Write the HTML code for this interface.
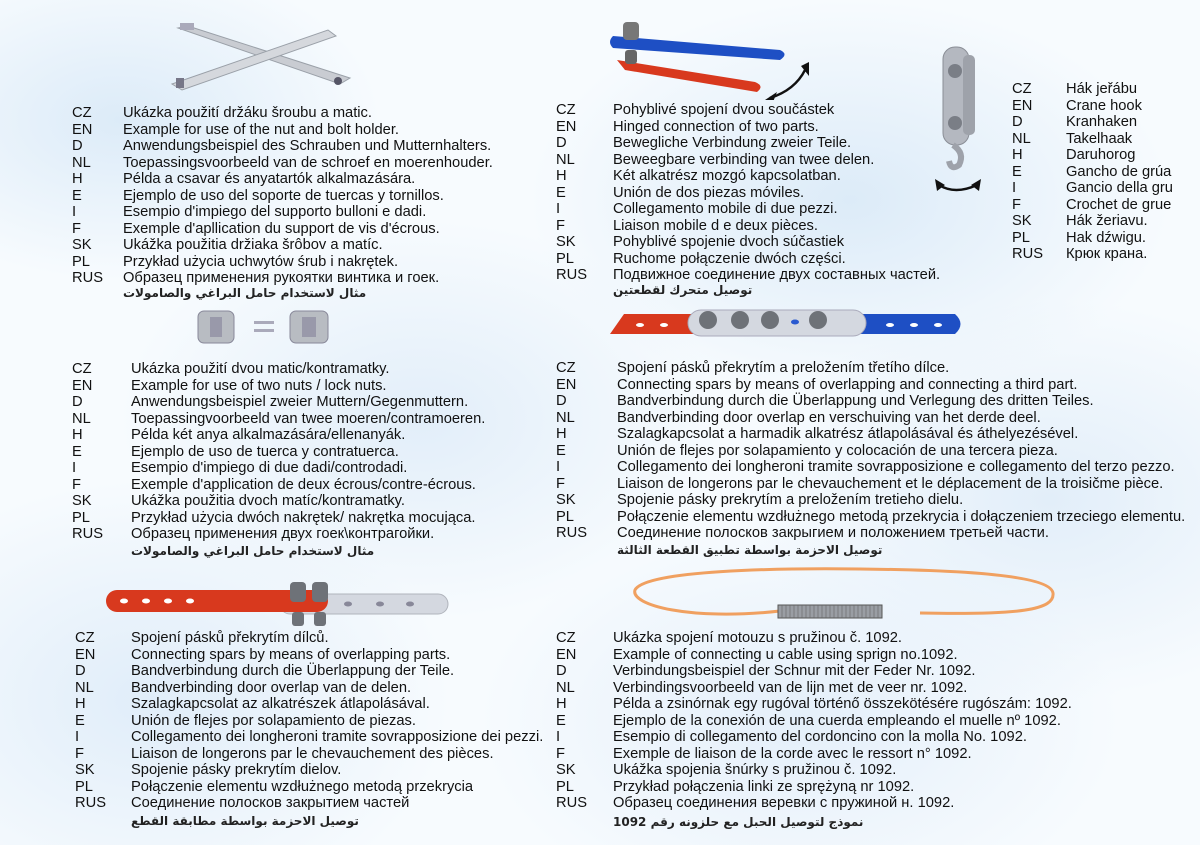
<!DOCTYPE html>
<html><head><meta charset="utf-8">
<style>
html,body{margin:0;padding:0}
body{width:1200px;height:845px;position:relative;overflow:hidden;font-family:"Liberation Sans",Arial,sans-serif;color:#111;
background:
radial-gradient(ellipse 260px 160px at 120px 120px,#dcebf8 0%,rgba(220,235,248,0) 100%),
radial-gradient(ellipse 300px 200px at 420px 420px,#e2eef9 0%,rgba(226,238,249,0) 100%),
radial-gradient(ellipse 300px 220px at 150px 700px,#e0edf9 0%,rgba(224,237,249,0) 100%),
radial-gradient(ellipse 320px 200px at 850px 200px,#dcebf8 0%,rgba(220,235,248,0) 100%),
radial-gradient(ellipse 300px 200px at 1050px 500px,#e2eef9 0%,rgba(226,238,249,0) 100%),
radial-gradient(ellipse 320px 200px at 800px 720px,#e4effa 0%,rgba(228,239,250,0) 100%),
#f7fbfe;}
.b{position:absolute;font-size:14.7px;line-height:16.55px;white-space:nowrap}
.b .c{position:absolute;left:0;top:0}
.b .t{position:absolute;top:0}
.ar{position:absolute;font-family:"DejaVu Sans",sans-serif;font-size:12px;font-weight:bold;color:#222;direction:rtl;white-space:nowrap}
svg{position:absolute}
</style></head><body>

<svg style="left:160px;top:18px" width="200" height="80" viewBox="0 0 200 80">
<polygon points="18,10 28,8 190,60 180,66" fill="#c9ccd2" stroke="#9aa0a8"/>
<polygon points="12,66 168,12 176,18 22,72" fill="#d5d8dd" stroke="#9aa0a8"/>
<rect x="20" y="5" width="14" height="7" fill="#aab"/>
<rect x="16" y="60" width="8" height="10" fill="#778"/>
<circle cx="178" cy="63" r="4" fill="#556"/>
</svg>

<div class="b" style="left:72px;top:105px"><div class="c">CZ<br>EN<br>D<br>NL<br>H<br>E<br>I<br>F<br>SK<br>PL<br>RUS</div><div class="t" style="left:51px">
Ukázka použití držáku šroubu a matic.<br>Example for use of the nut and bolt holder.<br>Anwendungsbeispiel des Schrauben und Mutternhalters.<br>Toepassingsvoorbeeld van de schroef en moerenhouder.<br>Példa a csavar  és anyatartók alkalmazására.<br>Ejemplo de uso del soporte de tuercas y tornillos.<br>Esempio d'impiego del supporto bulloni e dadi.<br>Exemple d'apllication du support de vis d'écrous.<br>Ukážka použitia držiaka šrôbov a matíc.<br>Przykład użycia uchwytów śrub i nakrętek.<br>Образец применения рукоятки винтика и гоек.</div></div>
<div class="ar" style="left:123px;top:286px">مثال لاستخدام حامل البراغي والصامولات</div>

<svg style="left:190px;top:305px" width="150" height="45" viewBox="0 0 150 45">
<rect x="8" y="6" width="36" height="32" rx="6" fill="#b8bcc2" stroke="#889"/>
<rect x="20" y="12" width="12" height="20" fill="#99a"/>
<rect x="64" y="16" width="20" height="3" fill="#aab"/><rect x="64" y="24" width="20" height="3" fill="#aab"/>
<rect x="100" y="6" width="38" height="32" rx="6" fill="#b8bcc2" stroke="#889"/>
<rect x="112" y="12" width="14" height="20" fill="#99a"/>
</svg>

<div class="b" style="left:72px;top:361px"><div class="c">CZ<br>EN<br>D<br>NL<br>H<br>E<br>I<br>F<br>SK<br>PL<br>RUS</div><div class="t" style="left:59px">
Ukázka použití dvou matic/kontramatky.<br>Example for use of two nuts / lock nuts.<br>Anwendungsbeispiel zweier Muttern/Gegenmuttern.<br>Toepassingvoorbeeld van twee moeren/contramoeren.<br>Példa két anya alkalmazására/ellenanyák.<br>Ejemplo de uso de tuerca y contratuerca.<br>Esempio d'impiego di due dadi/controdadi.<br>Exemple d'application de deux écrous/contre-écrous.<br>Ukážka použitia dvoch matíc/kontramatky.<br>Przykład użycia dwóch nakrętek/ nakrętka mocująca.<br>Образец применения двух гоек\контрагойки.</div></div>
<div class="ar" style="left:131px;top:544px">مثال لاستخدام حامل البراغي والصامولات</div>

<svg style="left:100px;top:580px" width="360" height="50" viewBox="0 0 360 50">
<rect x="180" y="14" width="168" height="20" rx="10" fill="#d4d8e0" stroke="#b0b4bc"/>
<rect x="6" y="10" width="222" height="22" rx="11" fill="#d8391e"/>
<g fill="#fff"><ellipse cx="24" cy="21" rx="4" ry="2.5"/><ellipse cx="46" cy="21" rx="4" ry="2.5"/><ellipse cx="68" cy="21" rx="4" ry="2.5"/><ellipse cx="90" cy="21" rx="4" ry="2.5"/></g>
<g fill="#889"><ellipse cx="248" cy="24" rx="4" ry="2.5"/><ellipse cx="280" cy="24" rx="4" ry="2.5"/><ellipse cx="310" cy="24" rx="4" ry="2.5"/></g>
<g fill="#6e7278"><rect x="190" y="2" width="16" height="20" rx="4"/><rect x="212" y="2" width="16" height="20" rx="4"/><rect x="192" y="32" width="12" height="14" rx="3"/><rect x="214" y="32" width="12" height="14" rx="3"/></g>
</svg>

<div class="b" style="left:75px;top:630px"><div class="c">CZ<br>EN<br>D<br>NL<br>H<br>E<br>I<br>F<br>SK<br>PL<br>RUS</div><div class="t" style="left:56px">
Spojení pásků překrytím dílců.<br>Connecting spars by means of overlapping parts.<br>Bandverbindung durch die Überlappung der Teile.<br>Bandverbinding door overlap van de delen.<br>Szalagkapcsolat az alkatrészek átlapolásával.<br>Unión de flejes por solapamiento de piezas.<br>Collegamento dei longheroni tramite sovrapposizione dei pezzi.<br>Liaison de longerons par le chevauchement des pièces.<br>Spojenie pásky prekrytím dielov.<br>Połączenie elementu wzdłużnego metodą przekrycia<br>Соединение полосков закрытием частей</div></div>
<div class="ar" style="left:131px;top:814px">توصيل الاحزمة بواسطة مطابقة القطع</div>

<svg style="left:605px;top:20px" width="220" height="80" viewBox="0 0 220 80">
<path d="M12,40 L150,62 Q160,66 152,72 L20,50 Z" fill="#d8391e"/>
<path d="M8,16 L175,30 Q184,34 175,40 L8,28 Q2,22 8,16Z" fill="#1e4fc4"/>
<rect x="18" y="2" width="16" height="18" rx="4" fill="#777"/>
<rect x="20" y="30" width="12" height="14" rx="3" fill="#666"/>
<path d="M165,78 Q190,70 200,50" fill="none" stroke="#111" stroke-width="2.5"/>
<polygon points="160,80 172,72 168,82" fill="#111"/><polygon points="196,46 204,42 204,56" fill="#111"/>
</svg>

<div class="b" style="left:556px;top:102px"><div class="c">CZ<br>EN<br>D<br>NL<br>H<br>E<br>I<br>F<br>SK<br>PL<br>RUS</div><div class="t" style="left:57px">
Pohyblivé spojení dvou součástek<br>Hinged connection of two parts.<br>Bewegliche Verbindung zweier Teile.<br>Beweegbare verbinding van twee delen.<br>Két alkatrész mozgó kapcsolatban.<br>Unión de dos piezas móviles.<br>Collegamento mobile di due pezzi.<br>Liaison mobile d e deux pièces.<br>Pohyblivé spojenie dvoch súčastiek<br>Ruchome połączenie dwóch części.<br>Подвижное соединение двух составных частей.</div></div>
<div class="ar" style="left:613px;top:283px">توصيل متحرك لقطعتين</div>

<svg style="left:935px;top:45px" width="60" height="150" viewBox="0 0 60 150">
<rect x="8" y="2" width="26" height="98" rx="12" fill="#b4b8c0" stroke="#8a8e96"/>
<rect x="28" y="10" width="12" height="80" rx="5" fill="#9ea2aa"/>
<circle cx="20" cy="26" r="7" fill="#7a7e86"/><circle cx="20" cy="78" r="7" fill="#7a7e86"/>
<path d="M18,100 Q30,108 24,120 Q16,126 14,116" fill="none" stroke="#9ea2aa" stroke-width="6"/>
<path d="M4,140 Q20,150 42,140" fill="none" stroke="#111" stroke-width="2.5"/>
<polygon points="0,134 10,140 2,146" fill="#111"/><polygon points="46,134 36,140 44,146" fill="#111"/>
</svg>

<div class="b" style="left:1012px;top:81px"><div class="c">CZ<br>EN<br>D<br>NL<br>H<br>E<br>I<br>F<br>SK<br>PL<br>RUS</div><div class="t" style="left:54px">
Hák jeřábu<br>Crane hook<br>Kranhaken<br>Takelhaak<br>Daruhorog<br>Gancho de grúa<br>Gancio della gru<br>Crochet de grue<br>Hák žeriavu.<br>Hak dźwigu.<br>Крюк крана.</div></div>

<svg style="left:600px;top:300px" width="370" height="45" viewBox="0 0 370 45">
<polygon points="10,34 24,14 110,14 110,34" fill="#d8391e"/>
<path d="M250,14 L355,14 Q366,24 355,34 L250,34Z" fill="#1e4fc4"/>
<rect x="88" y="10" width="178" height="26" rx="13" fill="#d4d8e0" stroke="#aab"/>
<g fill="#fff"><ellipse cx="40" cy="25" rx="4" ry="2"/><ellipse cx="64" cy="25" rx="4" ry="2"/><ellipse cx="290" cy="25" rx="4" ry="2"/><ellipse cx="314" cy="25" rx="4" ry="2"/><ellipse cx="338" cy="25" rx="4" ry="2"/></g>
<ellipse cx="195" cy="22" rx="4" ry="2.5" fill="#2a5ad0"/>
<g fill="#6e7278"><circle cx="108" cy="20" r="9"/><circle cx="140" cy="20" r="9"/><circle cx="170" cy="20" r="9"/><circle cx="218" cy="20" r="9"/></g>
</svg>

<div class="b" style="left:556px;top:360px"><div class="c">CZ<br>EN<br>D<br>NL<br>H<br>E<br>I<br>F<br>SK<br>PL<br>RUS</div><div class="t" style="left:61px">
Spojení pásků překrytím a preložením třetího dílce.<br>Connecting spars by means of overlapping and connecting a third part.<br>Bandverbindung durch die Überlappung und Verlegung des dritten Teiles.<br>Bandverbinding door overlap en verschuiving van het derde deel.<br>Szalagkapcsolat a harmadik alkatrész átlapolásával és áthelyezésével.<br>Unión de flejes por solapamiento y colocación de una tercera pieza.<br>Collegamento dei longheroni tramite sovrapposizione e collegamento del  terzo pezzo.<br>Liaison de longerons par le chevauchement et le déplacement de la troisičme pièce.<br>Spojenie pásky prekrytím a preložením tretieho dielu.<br>Połączenie elementu wzdłużnego metodą przekrycia i dołączeniem trzeciego elementu.<br>Соединение полосков закрыгием и положением третьей части.</div></div>
<div class="ar" style="left:617px;top:543px">توصيل الاحزمة بواسطة تطبيق القطعة الثالثة</div>

<svg style="left:630px;top:565px" width="430" height="70" viewBox="0 0 430 70">
<path d="M150,46 C60,56 0,40 5,25 C15,5 150,3 230,4 C330,5 420,10 423,28 C425,45 390,50 290,48" fill="none" stroke="#f0a060" stroke-width="3"/>
<rect x="148" y="40" width="104" height="13" fill="#9a9ea4" stroke="#555"/>
<g stroke="#666" stroke-width="0.6"><path d="M152,40 v13 M156,40 v13 M160,40 v13 M164,40 v13 M168,40 v13 M172,40 v13 M176,40 v13 M180,40 v13 M184,40 v13 M188,40 v13 M192,40 v13 M196,40 v13 M200,40 v13 M204,40 v13 M208,40 v13 M212,40 v13 M216,40 v13 M220,40 v13 M224,40 v13 M228,40 v13 M232,40 v13 M236,40 v13 M240,40 v13 M244,40 v13 M248,40 v13"/></g>
</svg>

<div class="b" style="left:556px;top:630px"><div class="c">CZ<br>EN<br>D<br>NL<br>H<br>E<br>I<br>F<br>SK<br>PL<br>RUS</div><div class="t" style="left:57px">
Ukázka spojení motouzu s pružinou č. 1092.<br>Example of connecting u cable using sprign no.1092.<br>Verbindungsbeispiel der Schnur mit der Feder Nr. 1092.<br>Verbindingsvoorbeeld van de lijn met de veer nr. 1092.<br>Példa a zsinórnak egy rugóval történő összekötésére  rugószám: 1092.<br>Ejemplo de la conexión de una cuerda empleando el muelle nº 1092.<br>Esempio di collegamento del cordoncino con la molla No. 1092.<br>Exemple de liaison de la corde avec le ressort n° 1092.<br>Ukážka spojenia šnúrky s pružinou č. 1092.<br>Przykład połączenia linki ze sprężyną nr 1092.<br>Образец соединения веревки с пружиной н. 1092.</div></div>
<div class="ar" style="left:613px;top:815px">نموذج لتوصيل الحبل مع حلزونه رقم 1092</div>

</body></html>
